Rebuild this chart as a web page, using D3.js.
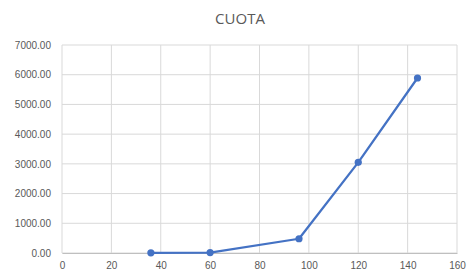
<!DOCTYPE html>
<html>
<head>
<meta charset="utf-8">
<script src="https://cdn.jsdelivr.net/npm/d3@7"></script>
<style>
  body { margin: 0; background: #fff; }
  svg { display: block; font-family: "Open Sans", "Noto Sans", sans-serif; }
  .tick text { fill: #595959; font-size: 10px; }
</style>
</head>
<body>
<div id="chart"></div>
<script>
var plazos = [36, 60, 96, 120, 144];
var cuotas = [5, 15, 480, 3050, 5890];
var xTicks = [0, 20, 40, 60, 80, 100, 120, 140, 160];
var yTicks = [0, 1000, 2000, 3000, 4000, 5000, 6000, 7000];

var svgWidth = 467;
var svgHeight = 276;

var margin = { top: 45, right: 10, bottom: 23, left: 62 };

var width = svgWidth - margin.left - margin.right;
var height = svgHeight - margin.top - margin.bottom;

var svg = d3.select("#chart")
  .append("svg")
  .attr("width", svgWidth)
  .attr("height", svgHeight);

// title
svg.append("text")
  .attr("x", 240)
  .attr("y", 24)
  .attr("text-anchor", "middle")
  .attr("fill", "#595959")
  .style("font-size", "15px")
  .text("CUOTA");

var chartGroup = svg.append("g")
  .attr("transform", `translate(${margin.left}, ${margin.top})`);

var xScale = d3.scaleLinear().domain([0, 160]).range([0, width]);
var yScale = d3.scaleLinear().domain([0, 7000]).range([height, 0]);

// gridlines
chartGroup.append("g")
  .selectAll("line.v")
  .data(xTicks)
  .enter()
  .append("line")
  .attr("x1", d => xScale(d))
  .attr("x2", d => xScale(d))
  .attr("y1", 0)
  .attr("y2", height)
  .attr("stroke", "#d9d9d9")
  .attr("stroke-width", 1);

chartGroup.append("g")
  .selectAll("line.h")
  .data(yTicks)
  .enter()
  .append("line")
  .attr("x1", 0)
  .attr("x2", width)
  .attr("y1", d => yScale(d))
  .attr("y2", d => yScale(d))
  .attr("stroke", "#d9d9d9")
  .attr("stroke-width", 1);

// axes
var bottomAxis = d3.axisBottom(xScale).tickValues(xTicks).tickSize(0).tickPadding(9);
var leftAxis = d3.axisLeft(yScale).tickValues(yTicks).tickSize(0).tickPadding(11)
  .tickFormat(d3.format(".2f"));

chartGroup.append("g")
  .attr("transform", `translate(0, ${height})`)
  .call(bottomAxis)
  .call(g => g.select(".domain").attr("stroke", "#bfbfbf"));

chartGroup.append("g")
  .call(leftAxis)
  .call(g => g.select(".domain").remove());

// line
var data = plazos.map((p, i) => ({ x: p, y: cuotas[i] }));

var line = d3.line()
  .x(d => xScale(d.x))
  .y(d => yScale(d.y));

chartGroup.append("path")
  .datum(data)
  .attr("fill", "none")
  .attr("stroke", "#4472c4")
  .attr("stroke-width", 2.25)
  .attr("stroke-linejoin", "round")
  .attr("d", line);

chartGroup.selectAll("circle")
  .data(data)
  .enter()
  .append("circle")
  .attr("cx", d => xScale(d.x))
  .attr("cy", d => yScale(d.y))
  .attr("r", 3.6)
  .attr("fill", "#4472c4");
</script>
</body>
</html>
